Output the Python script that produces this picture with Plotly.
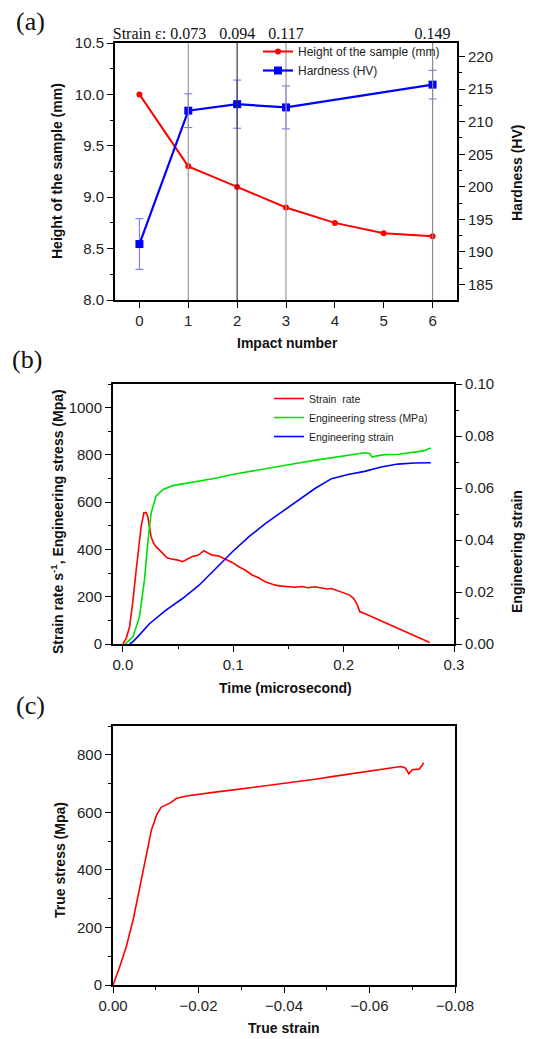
import plotly.graph_objects as go

# ---------------- Panel (a) data ----------------
impact = [0, 1, 2, 3, 4, 5, 6]
height_mm = [10.0, 9.3, 9.1, 8.9, 8.75, 8.65, 8.62]
hard_impact = [0, 1, 2, 3, 6]
hardness_hv = [191.2, 211.7, 212.7, 212.2, 215.7]
hardness_err = [3.9, 2.6, 3.7, 3.3, 2.2]
strain_impact = [1, 2, 3, 6]
strain_labels = ["0.073", "0.094", "0.117", "0.149"]
strain_line_colors = ["#9a9a9a", "#3a3a3a", "#9a9a9a", "#8a8a8a"]

# ---------------- Panel (b) data ----------------
sr_t = [0, 0.003, 0.006, 0.009, 0.012, 0.0165, 0.019, 0.021, 0.0225, 0.0255, 0.028, 0.030, 0.033,
        0.036, 0.040, 0.042, 0.046, 0.050, 0.054, 0.058, 0.063, 0.068, 0.0735, 0.077, 0.081, 0.087,
        0.093, 0.099, 0.105, 0.111, 0.117, 0.123, 0.129, 0.134, 0.138, 0.144, 0.150, 0.156, 0.162,
        0.168, 0.174, 0.180, 0.185, 0.189, 0.195, 0.201, 0.205, 0.209, 0.212, 0.2147, 0.219, 0.278]
sr_v = [0, 25, 72, 180, 313, 497, 555, 556, 540, 454, 425, 412, 398,
        383, 365, 362, 360, 355, 348, 358, 370, 375, 395, 385, 376, 372,
        358, 345, 327, 312, 292, 280, 263, 255, 249, 245, 242, 240, 243,
        238, 242, 236, 233, 235, 225, 217, 208, 193, 170, 136, 129, 6]

es_t = [0.002, 0.009, 0.015, 0.0195, 0.0225, 0.0255, 0.030, 0.036, 0.045, 0.055, 0.069, 0.085,
        0.099, 0.112, 0.123, 0.140, 0.159, 0.175, 0.189, 0.205, 0.219, 0.2235, 0.226, 0.229,
        0.237, 0.250, 0.264, 0.272, 0.279]
es_v = [0, 30, 115, 270, 426, 554, 625, 653, 670, 678, 688, 702,
        717, 728, 738, 752, 766, 778, 787, 797, 809, 806, 790, 795,
        801, 803, 811, 817, 829]

en_t = [0.006, 0.009, 0.015, 0.024, 0.039, 0.054, 0.069, 0.084, 0.099, 0.114, 0.129, 0.144,
        0.159, 0.174, 0.189, 0.204, 0.219, 0.234, 0.249, 0.264, 0.279]
en_v = [0, 0.0008, 0.0035, 0.0078, 0.0130, 0.0175, 0.0226, 0.0290, 0.0354, 0.0412, 0.0463, 0.0508,
        0.0553, 0.0598, 0.0636, 0.0652, 0.0664, 0.0681, 0.0692, 0.0696, 0.0697]

# ---------------- Panel (c) data ----------------
true_strain = [0, -0.0016, -0.0031, -0.0047, -0.0063, -0.0078, -0.0090, -0.0102, -0.0113, -0.0133,
               -0.0149, -0.0172, -0.0203, -0.0243, -0.0282, -0.0320, -0.0360, -0.0400, -0.0438,
               -0.0477, -0.0516, -0.0555, -0.0595, -0.0635, -0.0673, -0.0684, -0.0692, -0.0700,
               -0.0716, -0.0724, -0.0726]
true_stress = [0, 64, 133, 226, 342, 458, 539, 591, 618, 632,
               649, 657, 664, 671, 678, 685, 692, 700, 707,
               716, 725, 733, 742, 750, 759, 754, 734, 748,
               750, 765, 773]

# page body has an 8px default margin; size the figure to fill the visible window
OFF = 8
W, H = 533 - OFF, 1039 - OFF


def px(x):
    return (x - OFF) / W


def py(y):
    return 1 - (y - OFF) / H


AX = dict(family="Liberation Sans, Arial, sans-serif", size=15, color="#222")
TITLE_FONT = dict(family="Liberation Sans, Arial, sans-serif", size=14, color="#111")
SERIF = "Liberation Serif, Times New Roman, serif"

fig = go.Figure()

# vertical strain marker lines (panel a)
for i, xi in enumerate(strain_impact):
    fig.add_trace(go.Scatter(x=[xi, xi], y=[8.0, 10.5], mode="lines", xaxis="x2", yaxis="y",
                             line=dict(color=strain_line_colors[i], width=1.2),
                             showlegend=False, hoverinfo="skip"))

fig.add_trace(go.Scatter(x=impact, y=height_mm, mode="lines+markers", name="Height of the sample (mm)",
                         line=dict(color="#ff0000", width=2), marker=dict(symbol="circle", size=6),
                         xaxis="x", yaxis="y", legend="legend"))
fig.add_trace(go.Scatter(x=hard_impact, y=hardness_hv, mode="lines+markers", name="Hardness (HV)",
                         line=dict(color="#0000ff", width=2.2), marker=dict(symbol="square", size=8),
                         error_y=dict(type="data", array=hardness_err, color="#6a6aff", thickness=1, width=4),
                         xaxis="x", yaxis="y2", legend="legend"))

# panel b
fig.add_trace(go.Scatter(x=sr_t, y=sr_v, mode="lines", name="Strain  rate",
                         line=dict(color="#ff0000", width=1.6), xaxis="x3", yaxis="y3", legend="legend2"))
fig.add_trace(go.Scatter(x=es_t, y=es_v, mode="lines", name="Engineering stress (MPa)",
                         line=dict(color="#00e000", width=1.6), xaxis="x3", yaxis="y3", legend="legend2"))
fig.add_trace(go.Scatter(x=en_t, y=en_v, mode="lines", name="Engineering strain",
                         line=dict(color="#0000ff", width=1.6), xaxis="x3", yaxis="y4", legend="legend2"))

# panel c
fig.add_trace(go.Scatter(x=true_strain, y=true_stress, mode="lines", showlegend=False,
                         line=dict(color="#ff0000", width=1.6), xaxis="x4", yaxis="y5"))

MINOR = dict(ticklen=3, ticks="outside", tickcolor="#000", tickwidth=1)
axis_common = dict(showline=True, linecolor="#000", linewidth=2, ticks="outside", ticklen=6,
                   tickwidth=1.2, tickcolor="#000", tickfont=AX, showgrid=False, zeroline=False,
                   automargin=False)

dom_a_x = [px(115), px(457)]
dom_a_y = [py(300), py(43)]
dom_b_x = [px(113), px(454)]
dom_b_y = [py(644), py(384)]
dom_c_x = [px(113), px(455)]
dom_c_y = [py(985), py(726)]

fig.update_layout(
    width=W, height=H, margin=dict(l=0, r=0, t=0, b=0, autoexpand=False),
    paper_bgcolor="white", plot_bgcolor="white",
    xaxis=dict(axis_common, domain=dom_a_x, anchor="y", range=[-0.5, 6.5], tickvals=impact,
               mirror=True),
    xaxis2=dict(domain=dom_a_x, anchor="y", overlaying="x", side="top", range=[-0.5, 6.5],
                tickvals=[0] + strain_impact, ticktext=["Strain \u03b5:"] + strain_labels,
                ticks="", showline=False, showgrid=False, zeroline=False, tickangle=0,
                automargin=False, tickfont=dict(family=SERIF, size=16, color="#111")),
    yaxis=dict(axis_common, domain=dom_a_y, anchor="x", range=[8.0, 10.5], dtick=0.5,
               tickformat=".1f", minor=dict(MINOR, dtick=0.25)),
    yaxis2=dict(axis_common, domain=dom_a_y, anchor="x", overlaying="y", side="right",
                range=[182.6, 222.1], tickvals=[185, 190, 195, 200, 205, 210, 215, 220],
                minor=dict(MINOR, dtick=2.5)),
    xaxis3=dict(axis_common, domain=dom_b_x, anchor="y3", range=[-0.009, 0.3], dtick=0.1,
                tickformat=".1f", mirror=True, minor=dict(MINOR, dtick=0.05)),
    yaxis3=dict(axis_common, domain=dom_b_y, anchor="x3", range=[0, 1100], dtick=200,
                minor=dict(MINOR, dtick=100)),
    yaxis4=dict(axis_common, domain=dom_b_y, anchor="x3", overlaying="y3", side="right",
                range=[0, 0.1], dtick=0.02, tickformat=".2f", minor=dict(MINOR, dtick=0.01)),
    xaxis4=dict(axis_common, domain=dom_c_x, anchor="y5", range=[0, -0.08], dtick=0.02,
                tickformat=".2f", mirror=True, minor=dict(MINOR, dtick=0.01)),
    yaxis5=dict(axis_common, domain=dom_c_y, anchor="x4", range=[0, 900], dtick=200, mirror=True,
                minor=dict(MINOR, dtick=100)),
    legend=dict(x=px(258), y=py(37), xanchor="left", yanchor="top", bgcolor="rgba(0,0,0,0)",
                font=dict(family="Liberation Sans, Arial, sans-serif", size=12, color="#222"),
                tracegroupgap=0, itemwidth=30),
    legend2=dict(x=px(269), y=py(384), xanchor="left", yanchor="top", bgcolor="rgba(0,0,0,0)",
                 font=dict(family="Liberation Sans, Arial, sans-serif", size=10.5, color="#222"),
                 tracegroupgap=0, itemwidth=30),
)

# panel labels and axis titles as annotations
ann = [
    dict(text="(a)", x=px(30), y=py(21), font=dict(family=SERIF, size=26, color="#111")),
    dict(text="(b)", x=px(27), y=py(360), font=dict(family=SERIF, size=26, color="#111")),
    dict(text="(c)", x=px(30), y=py(705), font=dict(family=SERIF, size=26, color="#111")),
    dict(text="<b>Height of the sample (mm)</b>", x=px(57), y=py(171), textangle=-90, font=TITLE_FONT),
    dict(text="<b>Hardness (HV)</b>", x=px(517), y=py(173), textangle=-90, font=TITLE_FONT),
    dict(text="<b>Impact number</b>", x=px(287), y=py(343), font=TITLE_FONT),
    dict(text="<b>Strain rate s<sup>-1</sup>, Engineering stress (Mpa)</b>", x=px(57), y=py(522),
         textangle=-90, font=TITLE_FONT),
    dict(text="<b>Engineering strain</b>", x=px(517), y=py(552), textangle=-90, font=TITLE_FONT),
    dict(text="<b>Time (microsecond)</b>", x=px(285), y=py(688), font=TITLE_FONT),
    dict(text="<b>True stress (Mpa)</b>", x=px(60), y=py(860), textangle=-90, font=TITLE_FONT),
    dict(text="<b>True strain</b>", x=px(284), y=py(1028), font=TITLE_FONT),
]
for a in ann:
    fig.add_annotation(xref="paper", yref="paper", showarrow=False, xanchor="center", yanchor="middle", **a)

fig.write_html("out.html")
